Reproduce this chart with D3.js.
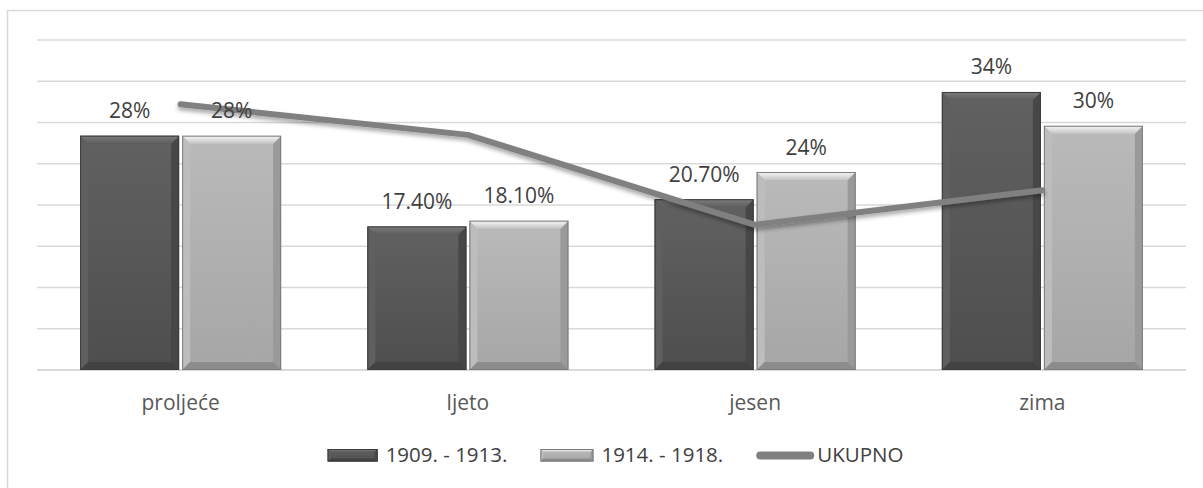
<!DOCTYPE html>
<html>
<head>
<meta charset="utf-8">
<script src="https://cdn.jsdelivr.net/npm/d3@7"></script>
<style>
  html, body { margin: 0; padding: 0; background: #fff; }
  svg { display: block; }
  text { font-family: "Open Sans", "Noto Sans", sans-serif; }
</style>
</head>
<body>
<svg id="chart" width="1203" height="488"></svg>
<script>
// Sezonska raspodjela: dva razdoblja (stupci) + UKUPNO (linija)
const categories = ['proljeće', 'ljeto', 'jesen', 'zima'];
const seriesNames = ['1909. - 1913.', '1914. - 1918.'];
const values1909 = [28.4, 17.4, 20.7, 33.7];
const values1914 = [28.4, 18.1, 24.0, 29.6];
const labels1909 = ['28%', '17.40%', '20.70%', '34%'];
const labels1914 = ['28%', '18.10%', '24%', '30%'];
const totalName = 'UKUPNO';
const totalValues = [32.2, 28.5, 17.6, 21.8];
const yTicks = [0, 5, 10, 15, 20, 25, 30, 35, 40];

const W = 1203, H = 488;
const svg = d3.select('#chart');

// paleta: tamni i svijetli stupci s "bevel" rubom
const STYLES = [
  { base: ['#616161', '#4e4e4e'], top: ['#7c7c7c', '#5d5d5d'], left: '#5f5f5f', right: '#474747', bottom: '#424242', stroke: '#3c3c3c' },
  { base: ['#bababa', '#a6a6a6'], top: ['#f7f7f7', '#c4c4c4'], left: '#bdbdbd', right: '#9a9a9a', bottom: '#8c8c8c', stroke: '#7d7d7d' }
];

const defs = svg.append('defs');
STYLES.forEach((st, i) => {
  const g1 = defs.append('linearGradient').attr('id', 'base' + i).attr('x1', 0).attr('y1', 0).attr('x2', 0).attr('y2', 1);
  g1.append('stop').attr('offset', '0%').attr('stop-color', st.base[0]);
  g1.append('stop').attr('offset', '100%').attr('stop-color', st.base[1]);
  const g2 = defs.append('linearGradient').attr('id', 'top' + i).attr('x1', 0).attr('y1', 0).attr('x2', 0).attr('y2', 1);
  g2.append('stop').attr('offset', '0%').attr('stop-color', st.top[0]);
  g2.append('stop').attr('offset', '100%').attr('stop-color', st.top[1]);
});
const shadow = defs.append('filter').attr('id', 'lineShadow')
  .attr('x', '-5%').attr('y', '-50%').attr('width', '110%').attr('height', '200%');
shadow.append('feDropShadow').attr('dx', 0).attr('dy', 3).attr('stdDeviation', 2)
  .attr('flood-color', '#000').attr('flood-opacity', 0.35);

svg.append('rect').attr('width', W).attr('height', H).attr('fill', '#fff');
// okvir (desni i donji rub izrezani)
svg.append('rect').attr('x', 7.5).attr('y', 10.5).attr('width', W).attr('height', H)
  .attr('fill', 'none').attr('stroke', '#d9d9d9').attr('stroke-width', 1.5);

const x0 = d3.scaleBand().domain(categories).range([37, 1186]).padding(0);
const groupW = 201;
const x1 = d3.scaleBand().domain(seriesNames)
  .range([(x0.bandwidth() - groupW) / 2, (x0.bandwidth() + groupW) / 2]).paddingInner(0.03);
const y = d3.scaleLinear().domain([0, 40]).range([370, 40]);

// mreža
svg.append('g').selectAll('line').data(yTicks).join('line')
  .attr('x1', x0.range()[0]).attr('x2', x0.range()[1])
  .attr('y1', d => y(d)).attr('y2', d => y(d))
  .attr('stroke', '#d9d9d9').attr('stroke-width', d => d === 0 ? 2 : 1.5);

// stupci
const bars = [];
categories.forEach((c, i) => {
  bars.push({ cat: c, s: 0, v: values1909[i], lbl: labels1909[i] });
  bars.push({ cat: c, s: 1, v: values1914[i], lbl: labels1914[i] });
});

function bevelBar(g, x, yT, w, h, s, b) {
  const st = STYLES[s];
  const xr = x + w, yb = yT + h;
  g.append('rect').attr('x', x).attr('y', yT).attr('width', w).attr('height', h).attr('fill', `url(#base${s})`);
  g.append('path').attr('d', `M${x},${yT}L${x + b},${yT + b}L${x + b},${yb - b}L${x},${yb}Z`).attr('fill', st.left);
  g.append('path').attr('d', `M${xr},${yT}L${xr - b},${yT + b}L${xr - b},${yb - b}L${xr},${yb}Z`).attr('fill', st.right);
  g.append('path').attr('d', `M${x},${yb}L${x + b},${yb - b}L${xr - b},${yb - b}L${xr},${yb}Z`).attr('fill', st.bottom);
  g.append('path').attr('d', `M${x},${yT}L${xr},${yT}L${xr - b},${yT + b}L${x + b},${yT + b}Z`).attr('fill', `url(#top${s})`);
  g.append('rect').attr('x', x + 0.5).attr('y', yT + 0.5).attr('width', w - 1).attr('height', h - 1)
    .attr('fill', 'none').attr('stroke', st.stroke).attr('stroke-width', 1);
}

const gBars = svg.append('g');
bars.forEach(d => {
  const bx = x0(d.cat) + x1(seriesNames[d.s]);
  const yt = y(d.v);
  bevelBar(gBars.append('g'), bx, yt, x1.bandwidth(), y(0) - yt, d.s, 8);
});

// linija UKUPNO
const line = d3.line()
  .x((d, i) => x0(categories[i]) + x0.bandwidth() / 2)
  .y(d => y(d));
svg.append('path').datum(totalValues)
  .attr('d', line).attr('fill', 'none')
  .attr('stroke', '#808080').attr('stroke-width', 6)
  .attr('stroke-linecap', 'round').attr('stroke-linejoin', 'round')
  .attr('filter', 'url(#lineShadow)');

// oznake vrijednosti
svg.append('g').selectAll('text').data(bars).join('text')
  .attr('x', d => x0(d.cat) + x1(seriesNames[d.s]) + x1.bandwidth() / 2)
  .attr('y', d => y(d.v) - 17.5)
  .attr('text-anchor', 'middle')
  .style('font-size', '21px').attr('fill', '#404040')
  .text(d => d.lbl);

// kategorije
svg.append('g').selectAll('text').data(categories).join('text')
  .attr('x', d => x0(d) + x0.bandwidth() / 2)
  .attr('y', 410)
  .attr('text-anchor', 'middle')
  .style('font-size', '21px').attr('fill', '#595959')
  .text(d => d);

// legenda
const gLeg = svg.append('g');
const legItems = [
  { name: seriesNames[0], type: 'bar', s: 0, sw: 50 },
  { name: seriesNames[1], type: 'bar', s: 1, sw: 53 },
  { name: totalName, type: 'line', sw: 58 }
];
const legBase = 461.5;
let lx = 0;
const placed = [];
legItems.forEach((it, i) => {
  const g = gLeg.append('g');
  const t = g.append('text').attr('y', legBase).style('font-size', '20.5px').attr('fill', '#404040').text(it.name);
  const tw = t.node().getComputedTextLength();
  const gapSw = it.type === 'line' ? 3 : 8;
  if (it.type === 'bar') {
    bevelBar(g.append('g'), lx, legBase - 12.5, it.sw, 12.5, it.s, 3);
  } else {
    g.append('line').attr('x1', lx + 4).attr('x2', lx + it.sw - 4)
      .attr('y1', legBase - 6).attr('y2', legBase - 6)
      .attr('stroke', '#808080').attr('stroke-width', 8).attr('stroke-linecap', 'round');
  }
  t.attr('x', lx + it.sw + gapSw);
  lx += it.sw + gapSw + tw + 33;
});
const legW = lx - 33;
gLeg.attr('transform', `translate(${(325 + 906) / 2 - legW / 2},0)`);
</script>
</body>
</html>
